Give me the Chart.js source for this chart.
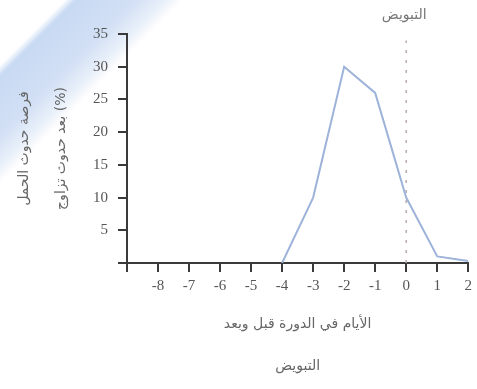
<!DOCTYPE html>
<html lang="ar">
<head>
<meta charset="utf-8">
<script src="https://cdn.jsdelivr.net/npm/chart.js@4/dist/chart.umd.min.js"></script>
<style>
  html, body { margin: 0; padding: 0; }
  body {
    width: 477px; height: 389px; overflow: hidden;
    background: linear-gradient(135deg, #ffffff 0px, #ffffff 46px, #c8d9f3 54px, #d2e0f5 95px, #e6eef9 115px, #ffffff 130px);
  }
  #wrap { position: relative; width: 477px; height: 389px; }
</style>
</head>
<body>
<div id="wrap"><canvas id="fertilityChart" width="477" height="389"></canvas></div>
<script>
// x tick labels (days relative to ovulation)
const dayTicks = [-9, -8, -7, -6, -5, -4, -3, -2, -1, 0, 1, 2];
// the curve: chance of pregnancy (%) for each day
const curveDays = [-4, -3, -2, -1, 0, 1, 2];
const chance = [0, 10, 30, 26, 10, 1, 0.3];
const yTicks = [0, 5, 10, 15, 20, 25, 30, 35];
const ovulationDay = 0;
const ovulationLabel = 'التبويض';

const axisColor = '#3a3a3a';
const tickFont = { family: "'Liberation Serif', 'DejaVu Serif', serif", size: 15 };
const arabicFont = "'DejaVu Sans', 'Noto Sans', sans-serif";

// label above the dashed ovulation line
const ovulationText = {
    id: 'ovulationText',
    afterDraw(chart) {
        const ctx = chart.ctx;
        const x = chart.scales.x.getPixelForValue(ovulationDay);
        ctx.save();
        ctx.font = '14px ' + arabicFont;
        ctx.fillStyle = '#777';
        ctx.textAlign = 'center';
        ctx.textBaseline = 'middle';
        ctx.fillText(ovulationLabel, x - 2, 15);
        ctx.restore();
    }
};

const fertilityChart = new Chart(document.getElementById('fertilityChart'), {
    type: 'line',
    data: {
        datasets: [
            {
                label: 'chance',
                data: curveDays.map((d, i) => ({ x: d, y: chance[i] })),
                borderColor: '#9db3d9',
                borderWidth: 2,
                pointRadius: 0,
                tension: 0,
                fill: false
            },
            {
                label: 'ovulation',
                data: [{ x: ovulationDay, y: 0 }, { x: ovulationDay, y: 34 }],
                borderColor: '#b9a9ad',
                borderWidth: 1.5,
                borderDash: [3, 7],
                pointRadius: 0
            }
        ]
    },
    options: {
        responsive: false,
        animation: false,
        layout: { padding: { top: 34, right: 7, left: 0, bottom: 0 } },
        plugins: {
            legend: { display: false },
            tooltip: { enabled: false }
        },
        scales: {
            x: {
                type: 'linear',
                min: -9,
                max: 2,
                afterBuildTicks(scale) {
                    scale.ticks = dayTicks.map(v => ({ value: v }));
                },
                afterFit(scale) { scale.height = 126; },
                ticks: {
                    color: '#555',
                    font: tickFont,
                    padding: 5,
                    maxRotation: 0,
                    callback: v => (v === -9 ? '' : String(v))
                },
                grid: { drawOnChartArea: false, tickLength: 9, color: axisColor, lineWidth: 2 },
                border: { color: axisColor, width: 2 },
                title: {
                    display: true,
                    text: ['الأيام في الدورة قبل وبعد', 'التبويض'],
                    color: '#666',
                    font: { family: arabicFont, size: 14, lineHeight: 3 },
                    padding: { top: 0, bottom: 2 }
                }
            },
            y: {
                min: 0,
                max: 35,
                afterBuildTicks(scale) {
                    scale.ticks = yTicks.map(v => ({ value: v }));
                },
                afterFit(scale) { scale.width = 127; },
                ticks: {
                    color: '#555',
                    font: tickFont,
                    padding: 10,
                    callback: v => (v === 0 ? '' : String(v))
                },
                grid: { drawOnChartArea: false, tickLength: 9, color: axisColor, lineWidth: 2 },
                border: { color: axisColor, width: 2 },
                title: {
                    display: true,
                    text: ['فرصة حدوث الحمل', 'بعد حدوث تزاوج (%)'],
                    color: '#666',
                    font: { family: arabicFont, size: 14, lineHeight: 2.7 },
                    padding: { top: 5, bottom: 0 }
                }
            }
        }
    },
    plugins: [ovulationText]
});
</script>
</body>
</html>
